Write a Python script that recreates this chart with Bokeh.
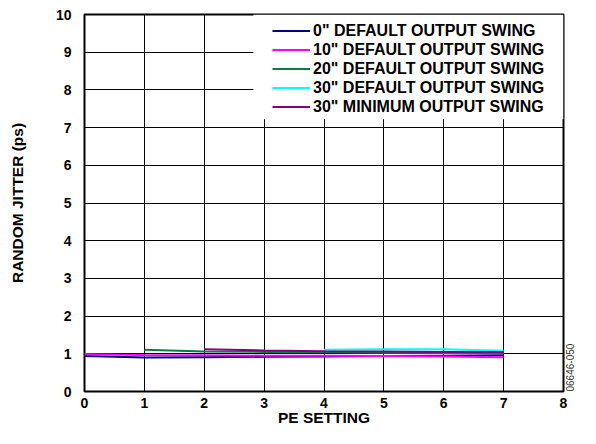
import math
from bokeh.plotting import figure
from bokeh.models import (Legend, LegendItem, FixedTicker, Range1d, BoxAnnotation,
                          LinearAxis)
from bokeh.embed import file_html
from bokeh.resources import INLINE

x_0in = [0, 1, 2, 3, 4, 5, 6, 7]
y_0in = [0.94, 0.90, 0.91, 0.92, 0.93, 0.94, 0.95, 0.96]
x_10in = [0, 1, 2, 3, 4, 5, 6, 7]
y_10in = [0.99, 0.97, 0.96, 0.95, 0.95, 0.94, 0.93, 0.91]
x_20in = [1, 2, 3, 4, 5, 6, 7]
y_20in = [1.11, 1.06, 1.05, 1.04, 1.03, 1.02, 1.02]
x_30in = [4, 5, 6, 7]
y_30in = [1.11, 1.12, 1.12, 1.08]
x_30min = [2, 3, 4, 5, 6, 7]
y_30min = [1.12, 1.09, 1.07, 1.06, 1.05, 1.05]

labels = ['0" DEFAULT OUTPUT SWING', '10" DEFAULT OUTPUT SWING',
          '20" DEFAULT OUTPUT SWING', '30" DEFAULT OUTPUT SWING',
          '30" MINIMUM OUTPUT SWING']
colors = ["#000080", "#FF00FF", "#008040", "#00FFFF", "#800080"]
series = [(x_0in, y_0in), (x_10in, y_10in), (x_20in, y_20in),
          (x_30in, y_30in), (x_30min, y_30min)]
x_ticks = [0, 1, 2, 3, 4, 5, 6, 7, 8]
y_ticks = [0, 1, 2, 3, 4, 5, 6, 7, 8, 9, 10]
x_title = "PE SETTING"
y_title = "RANDOM JITTER (ps)"
code_text = "06646-050"

FONT = "Liberation Sans"

p = figure(width=580, height=428, output_backend="svg", toolbar_location=None,
           x_range=Range1d(0, 8), y_range=Range1d(0, 10),
           min_border_left=84, min_border_right=17, min_border_top=14, min_border_bottom=33)

p.outline_line_color = "black"
p.outline_line_width = 2
p.outline_line_alpha = 1

for ax in (p.xaxis[0], p.yaxis[0]):
    ax.axis_line_color = None
    ax.major_tick_line_color = None
    ax.minor_tick_line_color = None
    ax.major_label_text_font = FONT
    ax.major_label_text_font_style = "bold"
    ax.major_label_text_font_size = "14px"
    ax.major_label_text_color = "black"
    ax.axis_label_text_font = FONT
    ax.axis_label_text_font_style = "bold"
    ax.axis_label_text_color = "black"

p.xaxis.ticker = FixedTicker(ticks=x_ticks)
p.yaxis.ticker = FixedTicker(ticks=y_ticks)
p.yaxis.axis_label = y_title
p.xaxis.axis_label = x_title
p.yaxis.axis_label_text_font_size = "15.5px"
p.xaxis.axis_label_text_font_size = "15.5px"
p.xaxis.major_label_standoff = 0
p.yaxis.major_label_standoff = 7
p.yaxis.axis_label_standoff = 27
p.xaxis.axis_label_standoff = -2

p.xgrid.grid_line_color = "black"
p.ygrid.grid_line_color = "black"
p.xgrid.grid_line_width = 1
p.ygrid.grid_line_width = 1

# white area behind legend (hides grid there)
p.add_layout(BoxAnnotation(left=2.82, right=8, bottom=7.22, top=10,
                           fill_color="white", fill_alpha=1.0, line_color=None))

items = []
for (xs, ys), c, lab in zip(series, colors, labels):
    r = p.line(xs, ys, line_color=c, line_width=2)
    items.append(LegendItem(label=lab, renderers=[r]))

legend = Legend(items=items, location=(188, 275), margin=0, padding=0,
                border_line_color=None, background_fill_alpha=0.0,
                label_text_font=FONT, label_text_font_style="bold",
                label_text_font_size="16px", label_text_color="black",
                glyph_width=38, glyph_height=19, label_height=19, spacing=0,
                label_standoff=3)
p.add_layout(legend)

# figure code on the right side, written as a single rotated tick label
wm_axis = LinearAxis(ticker=FixedTicker(ticks=[0]),
                     major_label_overrides={0: code_text},
                     major_label_orientation=math.pi / 2,
                     axis_line_color=None, major_tick_line_color=None,
                     minor_tick_line_color=None, major_label_standoff=0,
                     major_label_text_font=FONT, major_label_text_font_size="10px",
                     major_label_text_color="#333333")
p.add_layout(wm_axis, "right")

open("out.html", "w").write(file_html(p, INLINE))
